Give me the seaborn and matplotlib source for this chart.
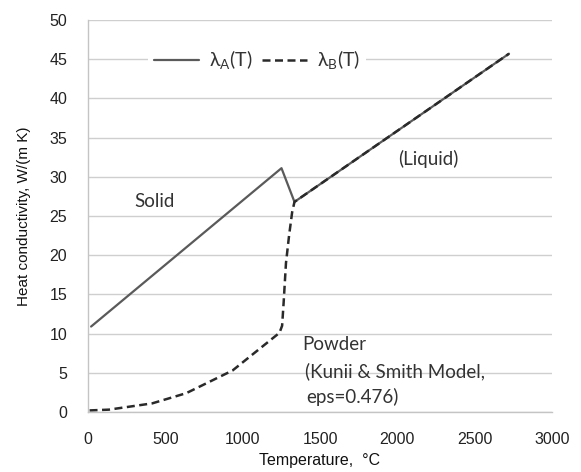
import matplotlib
matplotlib.use("Agg")
import matplotlib.pyplot as plt
import seaborn as sns
import pandas as pd
from matplotlib.lines import Line2D

# Data
temp_a = [20, 1251, 1335, 2722]
lam_a = [10.9, 31.1, 26.8, 45.7]

temp_b = [10, 135, 415, 635, 935, 1238, 1255, 1265, 1280, 1300, 1320, 1335, 2722]
lam_b = [0.2, 0.3, 1.1, 2.4, 5.3, 10.1, 11.0, 14.0, 19.0, 22.5, 25.5, 26.8, 45.7]

x_ticks = [0, 500, 1000, 1500, 2000, 2500, 3000]
y_ticks = [0, 5, 10, 15, 20, 25, 30, 35, 40, 45, 50]

df_a = pd.DataFrame({"T": temp_a, "lam": lam_a})
df_b = pd.DataFrame({"T": temp_b, "lam": lam_b})

sns.set_theme(style="white")
plt.rcParams["font.family"] = ["Liberation Sans", "DejaVu Sans"]
plt.rcParams["mathtext.fontset"] = "custom"
plt.rcParams["mathtext.rm"] = "Lato"

fig = plt.figure(figsize=(5.81, 4.72), dpi=100)
ax = fig.add_axes([88 / 581, 60 / 472, 464 / 581, 392 / 472])

sns.lineplot(data=df_a, x="T", y="lam", ax=ax, color="#5a5a5a", linewidth=1.6,
             sort=False, estimator=None)
sns.lineplot(data=df_b, x="T", y="lam", ax=ax, color="#2a2a2a", linewidth=1.8,
             linestyle=(0, (3.2, 1.8)), sort=False, estimator=None)

ax.set_xlim(0, 3000)
ax.set_ylim(0, 50)
ax.set_xticks(x_ticks)
ax.set_yticks(y_ticks)
ax.set_xticklabels([str(v) for v in x_ticks], fontsize=11.5, color="#222222")
ax.set_yticklabels([str(v) for v in y_ticks], fontsize=11.5, color="#222222")
ax.yaxis.grid(True, color="#cfcfcf", linewidth=1.0)
ax.set_axisbelow(True)
for s in ["top", "right"]:
    ax.spines[s].set_visible(False)
for s in ["bottom", "left"]:
    ax.spines[s].set_color("#c4c4c4")
    ax.spines[s].set_linewidth(1.0)
ax.tick_params(axis="x", direction="inout", length=5, color="#c4c4c4", pad=12)
ax.tick_params(axis="y", direction="out", length=5, color="#c4c4c4", pad=10)

ax.set_xlabel("Temperature,  \u00b0C", fontsize=11.5, color="#111111", labelpad=4)
ax.set_ylabel("Heat conductivity, W/(m K)", fontsize=11, color="#111111", labelpad=13)

afont = ["Lato", "DejaVu Sans"]
fs = 13.5
ax.text(298, 26.1, "Solid", fontsize=fs, family=afont, color="#333333")
ax.text(2003, 31.5, "(Liquid)", fontsize=fs, family=afont, color="#333333")
ax.text(1387, 7.9, "Powder", fontsize=fs, family=afont, color="#333333")
ax.text(1405, 4.5, "(Kunii & Smith Model,", fontsize=fs, family=afont, color="#333333")
ax.text(1410, 1.15, "eps=0.476)", fontsize=fs, family=afont, color="#333333")

handles = [Line2D([], [], color="#5a5a5a", linewidth=1.6),
           Line2D([], [], color="#2a2a2a", linewidth=1.8, linestyle=(0, (3.2, 1.8)))]
leg = ax.legend(handles, [r"λ$_\mathregular{A}$(T)", r"λ$_\mathregular{B}$(T)"], ncol=2,
                loc="center", bbox_to_anchor=(257 / 581, 1 - 60 / 472),
                bbox_transform=fig.transFigure, frameon=True, fancybox=False,
                handlelength=2.3, handletextpad=0.5, columnspacing=0.5,
                borderpad=0.3, prop={"family": afont, "size": 14})
leg.get_frame().set_facecolor("white")
leg.get_frame().set_edgecolor("none")
leg.get_frame().set_alpha(1.0)
for t in leg.get_texts():
    t.set_color("#333333")

fig.savefig("out.png", dpi=100)
